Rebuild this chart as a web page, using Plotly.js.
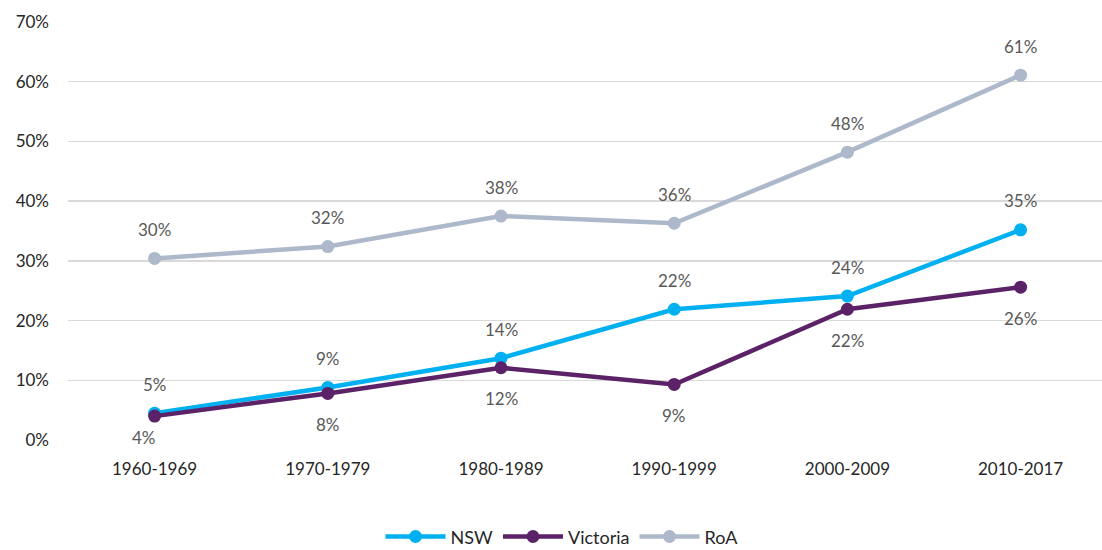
<!DOCTYPE html>
<html>
<head>
<meta charset="utf-8">
<script src="https://cdn.plot.ly/plotly-3.0.1.min.js"></script>
<style>html,body{margin:0;padding:0;background:#fff;}#chart{width:1102px;height:550px;}</style>
</head>
<body>
<div id="chart"></div>
<script>
const categories = ["1960-1969", "1970-1979", "1980-1989", "1990-1999", "2000-2009", "2010-2017"];
const nsw = [0.045, 0.088, 0.137, 0.219, 0.241, 0.352];
const victoria = [0.040, 0.078, 0.121, 0.093, 0.219, 0.256];
const roa = [0.304, 0.324, 0.375, 0.363, 0.482, 0.611];
const nswLabels = ["5%", "9%", "14%", "22%", "24%", "35%"];
const victoriaLabels = ["4%", "8%", "12%", "9%", "22%", "26%"];
const roaLabels = ["30%", "32%", "38%", "36%", "48%", "61%"];

const colors = {nsw: "#00B0F0", vic: "#5B2267", roa: "#ADB9CA"};
const fontFamily = "Lato, 'Open Sans', sans-serif";

function trace(name, y, color) {
  return {
    type: "scatter", mode: "lines+markers", name: name,
    x: categories, y: y,
    line: {color: color, width: 4.5},
    marker: {color: color, size: 13},
    hoverinfo: "none"
  };
}

const data = [trace("NSW", nsw, colors.nsw), trace("Victoria", victoria, colors.vic), trace("RoA", roa, colors.roa)];

const annotations = [];
function addLabels(vals, labels, yshifts, xshifts) {
  vals.forEach((v, i) => {
    annotations.push({
      x: categories[i], y: v, text: labels[i], showarrow: false,
      yshift: yshifts[i], xshift: xshifts ? xshifts[i] : 0,
      font: {family: fontFamily, size: 17, color: "#595959"}
    });
  });
}
addLabels(nsw, nswLabels, [29, 29, 29, 29, 29, 29]);
addLabels(victoria, victoriaLabels, [-21, -31, -31, -31, -31, -31], [-11, 0, 0, 0, 0, 0]);
addLabels(roa, roaLabels, [29, 29, 29, 29, 29, 29]);

const layout = {
  width: 1102, height: 550,
  margin: {l: 68, r: 0, t: 22, b: 110, autoexpand: false},
  paper_bgcolor: "#fff", plot_bgcolor: "#fff",
  font: {family: fontFamily, size: 17, color: "#262626"},
  showlegend: true,
  legend: {orientation: "h", x: 0.51, xanchor: "center", xref: "container",
           y: 0.024, yanchor: "middle", yref: "container", itemwidth: 60,
           font: {family: fontFamily, size: 18, color: "#262626"}, tracegroupgap: 0},
  xaxis: {type: "category", range: [-0.5, 5.47], showgrid: false, zeroline: false,
          showline: false, ticks: "", ticklabelstandoff: 17,
          tickfont: {family: fontFamily, size: 17, color: "#262626"}, fixedrange: true},
  yaxis: {range: [0, 0.7], dtick: 0.1, tickformat: ".0%", showgrid: true,
          gridcolor: "#D9D9D9", gridwidth: 1.5, zeroline: false, showline: false,
          ticks: "", ticklabelstandoff: 18,
          tickfont: {family: fontFamily, size: 17, color: "#262626"}, fixedrange: true},
  annotations: annotations
};

Plotly.newPlot("chart", data, layout, {displayModeBar: false, staticPlot: true});
</script>
</body>
</html>
